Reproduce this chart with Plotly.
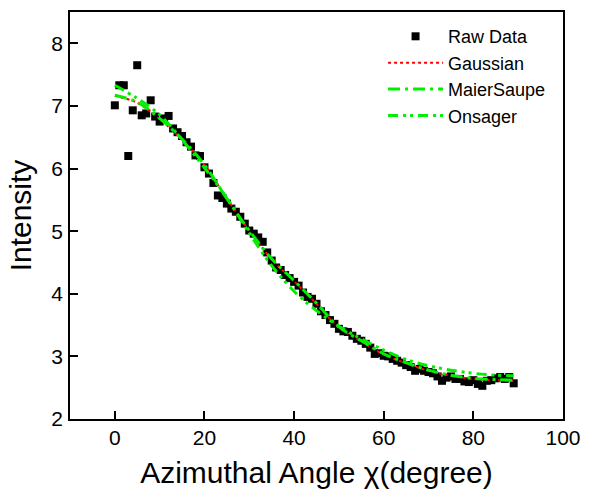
import plotly.graph_objects as go

# Raw data (angle in degrees, intensity)
angle = list(range(0, 90))
intensity = [
    7.01, 7.33, 7.33, 6.20, 6.93, 7.65, 6.85, 6.88, 7.09, 6.83,
    6.75, 6.80, 6.84, 6.64, 6.58, 6.52, 6.42, 6.35, 6.21, 6.20,
    6.02, 5.92, 5.77, 5.57, 5.53, 5.44, 5.36, 5.31, 5.23, 5.12,
    5.01, 4.96, 4.90, 4.83, 4.66, 4.53, 4.42, 4.38, 4.30, 4.25,
    4.19, 4.13, 4.02, 3.95, 3.92, 3.84, 3.72, 3.66, 3.58, 3.52,
    3.44, 3.40, 3.39, 3.33, 3.28, 3.25, 3.20, 3.14, 3.04, 3.05,
    3.01, 3.00, 2.96, 2.93, 2.90, 2.86, 2.83, 2.77, 2.80, 2.77,
    2.75, 2.73, 2.68, 2.61, 2.66, 2.68, 2.64, 2.64, 2.60, 2.59,
    2.62, 2.56, 2.53, 2.61, 2.62, 2.65, 2.67, 2.64, 2.67, 2.57,
]

# Fitted curves, sampled every 5 degrees
fit_angle = [0, 5, 10, 15, 20, 25, 30, 35, 40, 45, 50, 55, 60, 65, 70, 75, 80, 85, 89]
gaussian = [7.16, 7.05, 6.79, 6.46, 6.06, 5.52, 5.01, 4.55, 4.20, 3.84, 3.46, 3.24, 3.03, 2.89, 2.77, 2.69, 2.64, 2.62, 2.61]
maiersaupe = [7.17, 7.06, 6.80, 6.47, 6.06, 5.52, 5.01, 4.56, 4.21, 3.85, 3.47, 3.25, 3.04, 2.90, 2.78, 2.70, 2.65, 2.63, 2.62]
onsager = [7.33, 7.12, 6.86, 6.46, 6.01, 5.53, 4.97, 4.45, 4.04, 3.73, 3.48, 3.28, 3.10, 2.95, 2.85, 2.78, 2.73, 2.70, 2.69]

FONT = "Liberation Sans, Arial, sans-serif"
GREEN = "#00ee00"

fig = go.Figure()
fig.add_trace(go.Scatter(
    x=angle, y=intensity, mode="markers", name="Raw Data",
    marker=dict(symbol="square", size=8, color="black"),
))
fig.add_trace(go.Scatter(
    x=fit_angle, y=gaussian, mode="lines", name="Gaussian",
    line=dict(color="red", width=2, dash="dot", shape="spline"),
))
fig.add_trace(go.Scatter(
    x=fit_angle, y=maiersaupe, mode="lines", name="MaierSaupe",
    line=dict(color=GREEN, width=3, dash="12px,5px,3px,5px", shape="spline"),
))
fig.add_trace(go.Scatter(
    x=fit_angle, y=onsager, mode="lines", name="Onsager",
    line=dict(color=GREEN, width=3, dash="10px,5px,3px,4px,3px,5px", shape="spline"),
))

axis_common = dict(
    showline=True, linecolor="black", linewidth=1.5, mirror=True,
    ticks="inside", ticklen=8, tickwidth=1.5, tickcolor="black",
    showgrid=False, zeroline=False, automargin=False,
    tickfont=dict(family=FONT, size=21, color="black"),
)

fig.update_layout(
    width=589, height=489,
    margin=dict(l=70, r=26, t=12, b=70),
    paper_bgcolor="white", plot_bgcolor="white",
    font=dict(family=FONT, color="black"),
    showlegend=True,
    legend=dict(
        x=0.635, y=0.985, xanchor="left", yanchor="top",
        bgcolor="rgba(0,0,0,0)", borderwidth=0,
        font=dict(family=FONT, size=18, color="black"),
        itemwidth=55, traceorder="normal",
    ),
)
fig.update_xaxes(
    range=[-10, 100], tickvals=[0, 20, 40, 60, 80, 100],
    ticklabelstandoff=-1,
    title=dict(text="Azimuthal Angle χ(degree)", font=dict(family=FONT, size=30, color="black"), standoff=17),
    **axis_common,
)
fig.update_yaxes(
    range=[2, 8.5], tickvals=[2, 3, 4, 5, 6, 7, 8],
    ticklabelstandoff=1,
    title=dict(text="Intensity", font=dict(family=FONT, size=30, color="black"), standoff=11),
    **axis_common,
)

fig.write_html(
    "out.html",
    config={"displayModeBar": False},
    post_script="document.body.style.margin='0';document.body.style.overflow='hidden';",
)
